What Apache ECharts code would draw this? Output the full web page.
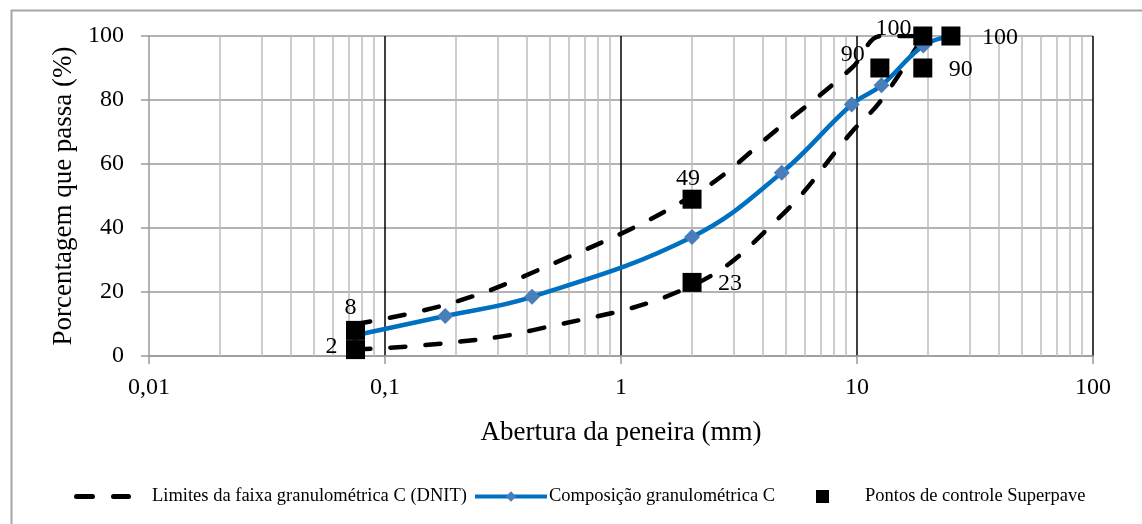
<!DOCTYPE html>
<html>
<head>
<meta charset="utf-8">
<script src="https://cdn.jsdelivr.net/npm/echarts@6/dist/echarts.min.js"></script>
<style>
  html, body { margin: 0; padding: 0; background: #ffffff; }
  #chart { width: 1142px; height: 524px; }
</style>
</head>
<body>
<div id="chart"></div>
<script>
// Sieve openings (mm) used by the DNIT grading band C
const sieveSizes = [0.075, 0.18, 0.42, 2.0, 4.8, 9.5, 12.7, 19.1];
const dnitUpper = [10, 16, 26, 50, 72, 90, 100, 100];
const dnitLower = [2, 4, 8, 22, 44, 70, 80, 100];

// Designed aggregate blend (percent passing)
const compSizes = [0.075, 0.18, 0.42, 2.0, 4.8, 9.5, 12.7, 19.1, 25];
const compPassing = [6.5, 12.5, 18.5, 37.2, 57.3, 78.6, 84.6, 97, 100];

// Superpave control points
const controlSizes = [0.075, 0.075, 2.0, 2.0, 12.5, 19, 19, 25];
const controlPassing = [2, 8, 23, 49, 90, 90, 100, 100];

const xTickLabels = ['0,01', '0,1', '1', '10', '100'];
const yTickLabels = ['0', '20', '40', '60', '80', '100'];

const seriesNames = [
  'Limites da faixa granulométrica C (DNIT)',
  'Composição granulométrica C',
  'Pontos de controle Superpave'
];
const xTitle = 'Abertura da peneira (mm)';
const yTitle = 'Porcentagem que passa (%)';

// minor log grid lines: 2..9 within each decade
const minorGrid = [];
[0.01, 0.1, 1, 10].forEach(d => { for (let k = 2; k <= 9; k++) minorGrid.push(+(k * d).toPrecision(3)); });

const FONT = '"Liberation Serif", "Times New Roman", serif';

// value-label placement (offset from the point centre)
const controlLabelCfg = [
  { show: true, offset: [-24, -3] },
  { show: true, offset: [-5, -23] },
  { show: true, offset: [38, 1] },
  { show: true, offset: [-4, -20] },
  { show: false },
  { show: true, offset: [38, 2] },
  { show: false },
  { show: true, offset: [49, 2] }
];
const upperLabelCfg = [null, null, null, null, null,
  { show: true, offset: [1, -13] },
  { show: true, offset: [12, -7] },
  null];

const chart = echarts.init(document.getElementById('chart'), null, { renderer: 'canvas' });

const labelBase = {
  position: 'inside',
  fontFamily: FONT,
  fontSize: 24,
  color: '#000',
  formatter: p => String(p.value[1])
};

const legendText = { fontFamily: FONT, fontSize: 18.5, color: '#000' };

const option = {
  animation: false,
  backgroundColor: '#ffffff',
  textStyle: { fontFamily: FONT },
  grid: { left: 149, right: 49, top: 36, bottom: 168, containLabel: false },
  xAxis: {
    type: 'log',
    logBase: 10,
    min: 0.01,
    max: 100,
    name: xTitle,
    nameLocation: 'middle',
    nameGap: 63,
    nameTextStyle: { fontFamily: FONT, fontSize: 27, color: '#000' },
    axisLine: { show: true, lineStyle: { color: '#9a9a9a', width: 1.5 } },
    axisTick: { show: true, inside: false, length: 8, lineStyle: { color: '#9a9a9a', width: 1.5 } },
    axisLabel: {
      fontFamily: FONT, fontSize: 24, color: '#000', margin: 20,
      formatter: v => xTickLabels[Math.round(Math.log10(v)) + 2]
    },
    splitLine: { show: true, showMinLine: false, lineStyle: { color: '#000', width: 1.5 } }
  },
  yAxis: {
    type: 'value',
    min: 0,
    max: 100,
    interval: 20,
    name: yTitle,
    nameLocation: 'middle',
    nameRotate: 90,
    nameGap: 71,
    nameTextStyle: { fontFamily: FONT, fontSize: 27, color: '#000' },
    axisLine: { show: true, lineStyle: { color: '#9a9a9a', width: 1.5 } },
    axisTick: { show: true, inside: false, length: 8, lineStyle: { color: '#9a9a9a', width: 1.5 } },
    axisLabel: {
      fontFamily: FONT, fontSize: 24, color: '#000', margin: 25,
      formatter: v => yTickLabels[Math.round(v / 20)]
    },
    splitLine: { show: true, lineStyle: { color: '#9a9a9a', width: 1.5 } }
  },
  legend: [
    {
      data: [{ name: seriesNames[0], icon: 'path://M2.5,0H18.5A2.5,2.5 0 0 1 18.5,5H2.5A2.5,2.5 0 0 1 2.5,0Z M39.5,0H54.5A2.5,2.5 0 0 1 54.5,5H39.5A2.5,2.5 0 0 1 39.5,0Z' }],
      left: 74, top: 487, padding: 0,
      itemWidth: 57, itemHeight: 5,
      selectedMode: false,
      textStyle: Object.assign({ padding: [0, 0, 0, 16] }, legendText)
    },
    {
      data: [seriesNames[1]],
      left: 473, top: 487, padding: 0,
      itemWidth: 72, itemHeight: 13,
      selectedMode: false,
      lineStyle: { width: 4, color: '#0070C0' },
      textStyle: Object.assign({ padding: [0, 0, 0, -3] }, legendText)
    },
    {
      data: [{ name: seriesNames[2], icon: 'rect' }],
      left: 816, top: 487, padding: 0,
      itemWidth: 13, itemHeight: 13,
      selectedMode: false,
      itemStyle: { opacity: 1 },
      textStyle: Object.assign({ padding: [0, 0, 0, 31] }, legendText)
    }
  ],
  graphic: [
    {
      type: 'rect',
      left: 9, top: 8,
      shape: { width: 1200, height: 600 },
      style: { fill: 'none', stroke: '#a6a6a6', lineWidth: 2 },
      silent: true, z: -10
    }
  ],
  series: [
    {
      name: seriesNames[0],
      type: 'line',
      smooth: 0.4,
      z: 2,
      symbol: 'circle',
      symbolSize: 0,
      showSymbol: true,
      color: '#000',
      lineStyle: { color: '#000', width: 4.5, type: [15, 20], cap: 'round' },
      data: sieveSizes.map((s, i) => ({
        value: [s, dnitUpper[i]],
        label: Object.assign({}, labelBase, upperLabelCfg[i] || { show: false })
      }))
    },
    {
      name: seriesNames[0],
      type: 'line',
      smooth: 0.4,
      z: 2,
      showSymbol: false,
      symbol: 'none',
      color: '#000',
      lineStyle: { color: '#000', width: 4.5, type: [15, 20], cap: 'round' },
      data: sieveSizes.map((s, i) => [s, dnitLower[i]])
    },
    {
      name: seriesNames[1],
      type: 'line',
      smooth: 0.4,
      z: 3,
      symbol: 'diamond',
      symbolSize: 16,
      showAllSymbol: true,
      color: '#4a7ebb',
      itemStyle: { color: '#4a7ebb' },
      lineStyle: { color: '#0070C0', width: 4.5 },
      data: compSizes.map((s, i) => [s, compPassing[i]]),
      markLine: {
        silent: true,
        z: 1,
        animation: false,
        symbol: ['none', 'none'],
        label: { show: false },
        emphasis: { disabled: true },
        lineStyle: { color: '#bdbdbd', width: 1.5, type: 'solid' },
        data: minorGrid.map(v => ({ xAxis: v }))
      }
    },
    {
      name: seriesNames[2],
      type: 'scatter',
      z: 4,
      symbol: 'rect',
      symbolSize: 19,
      color: '#000',
      itemStyle: { color: '#000', opacity: 1 },
      data: controlSizes.map((s, i) => ({
        value: [s, controlPassing[i]],
        label: Object.assign({}, labelBase, controlLabelCfg[i])
      }))
    }
  ]
};

chart.setOption(option);
</script>
</body>
</html>
